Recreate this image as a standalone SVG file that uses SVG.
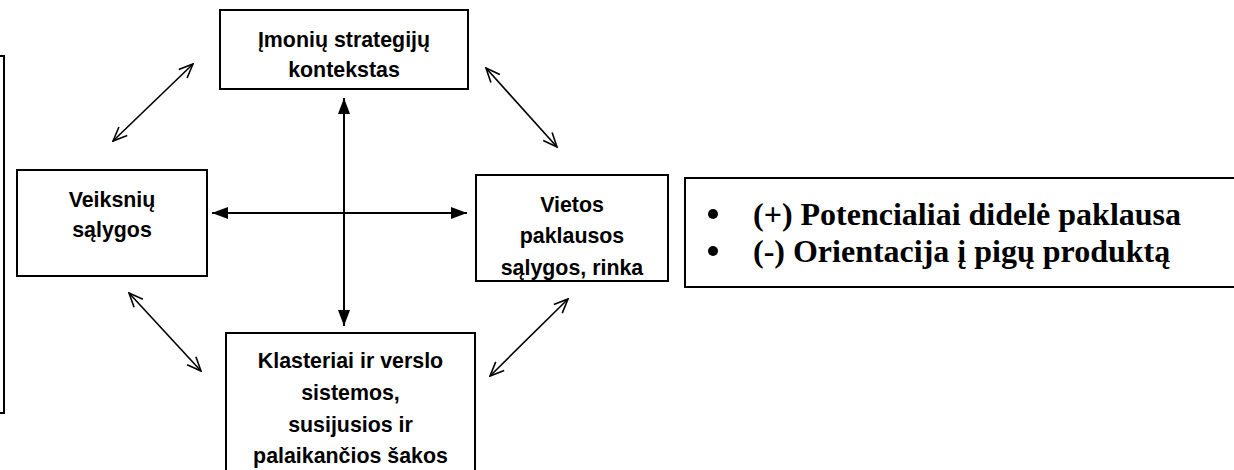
<svg xmlns="http://www.w3.org/2000/svg" width="1234" height="470" viewBox="0 0 1234 470">
<style>
.box{fill:#fff;stroke:#000;stroke-width:2}
.lbl{font-family:"Liberation Sans",Arial,sans-serif;font-weight:bold;font-size:23px;text-anchor:middle;fill:#000}
.big{font-family:"Liberation Serif","Times New Roman",serif;font-weight:bold;font-size:32px;fill:#000}
.thin{stroke:#000;stroke-width:1.6;fill:none;marker-start:url(#open);marker-end:url(#open)}
.thick{stroke:#000;stroke-width:2;fill:none;marker-start:url(#solid);marker-end:url(#solid)}
</style>
<defs>
<marker id="open" viewBox="0 0 16 16" refX="15" refY="8" markerWidth="16" markerHeight="16" markerUnits="userSpaceOnUse" orient="auto-start-reverse">
<path d="M1,2 L15,8 L1,14" fill="none" stroke="#000" stroke-width="1.6"/>
</marker>
<marker id="solid" viewBox="0 0 16 12" refX="16" refY="6" markerWidth="16" markerHeight="12" markerUnits="userSpaceOnUse" orient="auto-start-reverse">
<path d="M0,0 L16,6 L0,12 z" fill="#000"/>
</marker>
</defs>
<rect width="1234" height="470" fill="#fff"/>
<g id="left-partial">
<path d="M-2,56 H4 V413 H-2" fill="none" stroke="#000" stroke-width="2"/>
</g>
<g id="connectors">
<line class="thin" x1="113" y1="141" x2="193" y2="64"/>
<line class="thin" x1="486" y1="68" x2="557" y2="147"/>
<line class="thin" x1="129" y1="293" x2="201" y2="371"/>
<line class="thin" x1="568" y1="299" x2="490" y2="376"/>
<line class="thick" x1="344" y1="98" x2="344" y2="326"/>
<line class="thick" x1="212" y1="213" x2="467" y2="213"/>
</g>
<g id="top">
<rect class="box" x="220" y="10" width="248" height="79"/>
<g transform="translate(344,0) scale(0.93,1)">
<text class="lbl" x="0" y="47">Įmonių strategijų</text>
<text class="lbl" x="0" y="77">kontekstas</text>
</g>
</g>
<g id="left">
<rect class="box" x="17" y="170" width="190" height="106"/>
<g transform="translate(112,0) scale(0.93,1)">
<text class="lbl" x="0" y="207">Veiksnių</text>
<text class="lbl" x="0" y="237">sąlygos</text>
</g>
</g>
<g id="right">
<rect class="box" x="476" y="175" width="192" height="106"/>
<g transform="translate(572,0) scale(0.93,1)">
<text class="lbl" x="0" y="212">Vietos</text>
<text class="lbl" x="0" y="243">paklausos</text>
<text class="lbl" x="0" y="275">sąlygos, rinka</text>
</g>
</g>
<g id="bottom">
<rect class="box" x="226" y="333" width="249" height="150"/>
<g transform="translate(350.5,0) scale(0.93,1)">
<text class="lbl" x="0" y="368">Klasteriai ir verslo</text>
<text class="lbl" x="0" y="400">sistemos,</text>
<text class="lbl" x="0" y="432">susijusios ir</text>
<text class="lbl" x="0" y="463">palaikančios šakos</text>
</g>
</g>
<g id="notes">
<rect class="box" x="685" y="178" width="560" height="109"/>
<circle cx="713" cy="214" r="5"/>
<circle cx="713" cy="251" r="5"/>
<text class="big" x="753" y="225">(+) Potencialiai didelė paklausa</text>
<text class="big" x="753" y="262">(-) Orientacija į pigų produktą</text>
</g>
</svg>
